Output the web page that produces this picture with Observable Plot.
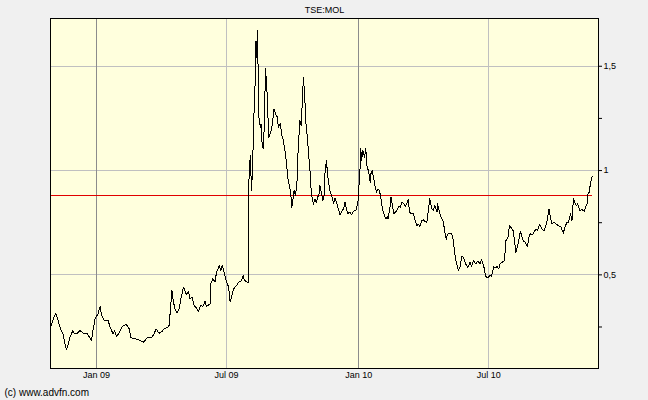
<!DOCTYPE html>
<html>
<head>
<meta charset="utf-8">
<script src="https://cdn.jsdelivr.net/npm/d3@7"></script>
<script src="https://cdn.jsdelivr.net/npm/@observablehq/plot@0.6"></script>
<style>
  html, body { margin: 0; padding: 0; background: #f0f0f0; }
  #chart svg { display: block; }
</style>
</head>
<body>
<div id="chart"></div>
<script>
const chartTitle = "TSE:MOL";
const captionText = "(c) www.advfn.com";
const refLevel = 0.879;
const yTicks = [0.5, 1, 1.5];
const yMinorTicks = [0.25, 0.75, 1.25];
const janTicks = ["2009-01-01", "2010-01-01"];
const julTicks = ["2009-07-01", "2010-07-01"];

const dates = [
"2008-10-30","2008-11-01","2008-11-05","2008-11-08","2008-11-11","2008-11-16","2008-11-17","2008-11-20","2008-11-22","2008-11-25",
"2008-11-29","2008-12-01","2008-12-05","2008-12-09","2008-12-14","2008-12-19","2008-12-22","2008-12-25","2008-12-27","2008-12-30",
"2009-01-03","2009-01-06","2009-01-08","2009-01-12","2009-01-17","2009-01-20","2009-01-24","2009-01-26","2009-01-29","2009-02-02",
"2009-02-06","2009-02-11","2009-02-15","2009-02-18","2009-02-24","2009-03-03","2009-03-08","2009-03-11","2009-03-14","2009-03-19",
"2009-03-22","2009-03-25","2009-03-29","2009-04-02","2009-04-05","2009-04-10","2009-04-12","2009-04-13","2009-04-16","2009-04-17",
"2009-04-20","2009-04-23","2009-04-26","2009-04-28","2009-05-02","2009-05-04","2009-05-06","2009-05-09","2009-05-11","2009-05-14",
"2009-05-17","2009-05-20","2009-05-23","2009-05-26","2009-05-29","2009-06-01","2009-06-03","2009-06-08","2009-06-09","2009-06-12",
"2009-06-15","2009-06-17","2009-06-21","2009-06-23","2009-06-25","2009-06-28","2009-07-01","2009-07-04","2009-07-06","2009-07-08",
"2009-07-11","2009-07-15","2009-07-18","2009-07-22","2009-07-24","2009-07-26","2009-07-31","2009-08-01","2009-08-03","2009-08-04",
"2009-08-05","2009-08-07","2009-08-08","2009-08-10","2009-08-11","2009-08-12","2009-08-13","2009-08-14","2009-08-15","2009-08-17",
"2009-08-18","2009-08-19","2009-08-21","2009-08-23","2009-08-24","2009-08-26","2009-08-27","2009-08-29","2009-09-01","2009-09-03",
"2009-09-05","2009-09-08","2009-09-10","2009-09-11","2009-09-14","2009-09-16","2009-09-18","2009-09-21","2009-09-23","2009-09-24",
"2009-09-26","2009-09-28","2009-09-30","2009-10-02","2009-10-03","2009-10-05","2009-10-07","2009-10-08","2009-10-10","2009-10-11",
"2009-10-13","2009-10-15","2009-10-16","2009-10-18","2009-10-19","2009-10-20","2009-10-22","2009-10-23","2009-10-25","2009-10-26",
"2009-10-28","2009-10-30","2009-11-01","2009-11-03","2009-11-05","2009-11-07","2009-11-08","2009-11-10","2009-11-12","2009-11-14",
"2009-11-15","2009-11-17","2009-11-19","2009-11-20","2009-11-22","2009-11-25","2009-11-27","2009-11-29","2009-12-01","2009-12-03",
"2009-12-06","2009-12-09","2009-12-11","2009-12-13","2009-12-15","2009-12-17","2009-12-20","2009-12-22","2009-12-25","2009-12-28",
"2009-12-31","2010-01-01","2010-01-03","2010-01-04","2010-01-05","2010-01-07","2010-01-09","2010-01-11","2010-01-12","2010-01-15",
"2010-01-17","2010-01-18","2010-01-20","2010-01-22","2010-01-24","2010-01-26","2010-01-28","2010-01-30","2010-02-01","2010-02-03",
"2010-02-06","2010-02-08","2010-02-10","2010-02-11","2010-02-14","2010-02-15","2010-02-17","2010-02-19","2010-02-21","2010-02-23",
"2010-02-26","2010-02-28","2010-03-02","2010-03-05","2010-03-07","2010-03-09","2010-03-11","2010-03-13","2010-03-16","2010-03-18",
"2010-03-20","2010-03-23","2010-03-25","2010-03-27","2010-03-30","2010-04-01","2010-04-03","2010-04-06","2010-04-08","2010-04-10",
"2010-04-13","2010-04-15","2010-04-17","2010-04-20","2010-04-21","2010-04-24","2010-04-27","2010-04-29","2010-05-01","2010-05-03",
"2010-05-04","2010-05-06","2010-05-10","2010-05-12","2010-05-14","2010-05-16","2010-05-18","2010-05-20","2010-05-23","2010-05-24",
"2010-05-27","2010-05-30","2010-06-02","2010-06-05","2010-06-07","2010-06-10","2010-06-13","2010-06-16","2010-06-19","2010-06-21",
"2010-06-24","2010-06-27","2010-06-30","2010-07-03","2010-07-05","2010-07-08","2010-07-10","2010-07-13","2010-07-15","2010-07-17",
"2010-07-20","2010-07-23","2010-07-25","2010-07-28","2010-07-30","2010-08-01","2010-08-04","2010-08-06","2010-08-08","2010-08-10",
"2010-08-12","2010-08-14","2010-08-16","2010-08-18","2010-08-21","2010-08-24","2010-08-26","2010-08-28","2010-08-31","2010-09-02",
"2010-09-05","2010-09-07","2010-09-10","2010-09-13","2010-09-16","2010-09-18","2010-09-20","2010-09-23","2010-09-25","2010-09-27",
"2010-09-30","2010-10-03","2010-10-06","2010-10-10","2010-10-13","2010-10-15","2010-10-18","2010-10-20","2010-10-23","2010-10-25",
"2010-10-27","2010-10-28","2010-10-31","2010-11-02","2010-11-05","2010-11-08","2010-11-11","2010-11-13","2010-11-15","2010-11-16",
"2010-11-18","2010-11-20","2010-11-22"
];

const prices = [
0.257,0.281,0.316,0.290,0.249,0.209,0.185,0.140,0.161,0.201,
0.233,0.219,0.219,0.233,0.220,0.220,0.201,0.185,0.233,0.289,
0.313,0.348,0.305,0.281,0.281,0.249,0.217,0.233,0.204,0.225,
0.252,0.262,0.246,0.198,0.193,0.185,0.177,0.193,0.201,0.201,
0.217,0.241,0.220,0.228,0.241,0.249,0.257,0.297,0.425,0.393,
0.337,0.316,0.337,0.377,0.441,0.425,0.406,0.421,0.385,0.393,
0.353,0.342,0.325,0.353,0.348,0.373,0.348,0.361,0.457,0.481,
0.465,0.512,0.545,0.521,0.545,0.508,0.465,0.441,0.369,0.396,
0.433,0.449,0.465,0.473,0.497,0.473,0.463,0.936,1.072,0.984,
0.904,1.112,1.248,1.440,1.623,1.543,1.671,1.479,1.256,1.208,
1.224,1.144,1.104,1.240,1.488,1.416,1.312,1.160,1.192,1.224,
1.296,1.264,1.256,1.208,1.224,1.168,1.147,1.080,1.016,0.968,
0.936,0.904,0.824,0.872,0.904,0.880,0.936,1.048,1.176,1.240,
1.216,1.368,1.447,1.351,1.256,1.208,1.144,1.088,1.016,0.936,
0.872,0.837,0.864,0.848,0.872,0.891,0.928,0.896,0.856,0.880,
0.984,1.048,0.976,0.944,0.904,0.872,0.840,0.869,0.848,0.824,
0.789,0.808,0.816,0.848,0.816,0.795,0.800,0.789,0.805,0.808,
0.848,0.904,1.016,1.104,1.048,1.096,1.064,1.104,1.032,0.992,
0.944,0.984,1.000,0.960,0.920,0.896,0.912,0.904,0.864,0.816,
0.784,0.768,0.779,0.768,0.832,0.872,0.832,0.792,0.800,0.808,
0.827,0.824,0.848,0.840,0.827,0.843,0.860,0.800,0.792,0.795,
0.768,0.736,0.744,0.732,0.760,0.764,0.757,0.752,0.808,0.864,
0.816,0.808,0.832,0.800,0.840,0.792,0.768,0.752,0.704,0.668,
0.688,0.699,0.697,0.684,0.625,0.577,0.545,0.521,0.545,0.588,
0.585,0.553,0.534,0.560,0.540,0.569,0.553,0.565,0.553,0.572,
0.545,0.492,0.486,0.497,0.492,0.540,0.534,0.540,0.529,0.553,
0.560,0.569,0.664,0.680,0.736,0.728,0.712,0.664,0.608,0.636,
0.664,0.709,0.688,0.664,0.656,0.636,0.680,0.697,0.693,0.704,
0.720,0.712,0.741,0.720,0.712,0.728,0.752,0.816,0.776,0.744,
0.752,0.744,0.736,0.728,0.699,0.728,0.752,0.752,0.792,0.760,
0.864,0.856,0.832,0.840,0.808,0.812,0.805,0.824,0.840,0.885,
0.896,0.944,0.971
];

const parse = d3.utcParse("%Y-%m-%d");
const series = dates.map((d, i) => ({date: parse(d), price: prices[i]}));
const firstDate = series[0].date;
const lastDate = series[series.length - 1].date;
const font = "'Liberation Sans', Arial, sans-serif";

const plot = Plot.plot({
  width: 648,
  height: 400,
  marginLeft: 50,
  marginRight: 50,
  marginTop: 18,
  marginBottom: 32,
  style: {background: "transparent", fontFamily: font, fontSize: "9px", color: "#000"},
  x: {type: "utc", domain: [new Date("2008-10-28T21:00Z"), new Date("2010-11-30T23:00Z")]},
  y: {domain: [0.051, 1.729]},
  marks: [
    Plot.frame({fill: "#ffffdd", stroke: "none"}),
    Plot.gridY(yTicks, {stroke: "#c0c0c0", strokeOpacity: 1, shapeRendering: "crispEdges"}),
    Plot.gridX(julTicks.map(parse), {stroke: "#c0c0c0", strokeOpacity: 1, shapeRendering: "crispEdges"}),
    Plot.gridX(janTicks.map(parse), {stroke: "#8c8c8c", strokeOpacity: 1, shapeRendering: "crispEdges"}),
    Plot.ruleY([refLevel], {x1: firstDate, x2: lastDate, stroke: "#e00000", strokeWidth: 1, shapeRendering: "crispEdges"}),
    Plot.line(series, {x: "date", y: "price", stroke: "#000", strokeWidth: 1, shapeRendering: "crispEdges"}),
    Plot.frame({stroke: "#000", strokeWidth: 1, shapeRendering: "crispEdges"}),
    Plot.axisY(yTicks, {anchor: "right", tickSize: 3, tickPadding: 2, tickFormat: d => String(d).replace(".", ","), label: null, stroke: "#000"}),
    Plot.axisY(yMinorTicks, {anchor: "right", tickSize: 3, tickFormat: () => "", label: null, stroke: "#000"}),
    Plot.axisX([...janTicks, ...julTicks].map(parse), {anchor: "bottom", tickSize: 0, tickPadding: 3, tickFormat: d3.utcFormat("%b %y"), label: null}),
    Plot.text([chartTitle], {frameAnchor: "top", dy: -8, lineAnchor: "middle", fontSize: 9, fill: "#000"}),
    Plot.text([captionText], {frameAnchor: "bottom-left", dx: -46, dy: 24.5, textAnchor: "start", lineAnchor: "middle", fontSize: 10, fill: "#000"})
  ]
});
document.getElementById("chart").appendChild(plot);
</script>
</body>
</html>
